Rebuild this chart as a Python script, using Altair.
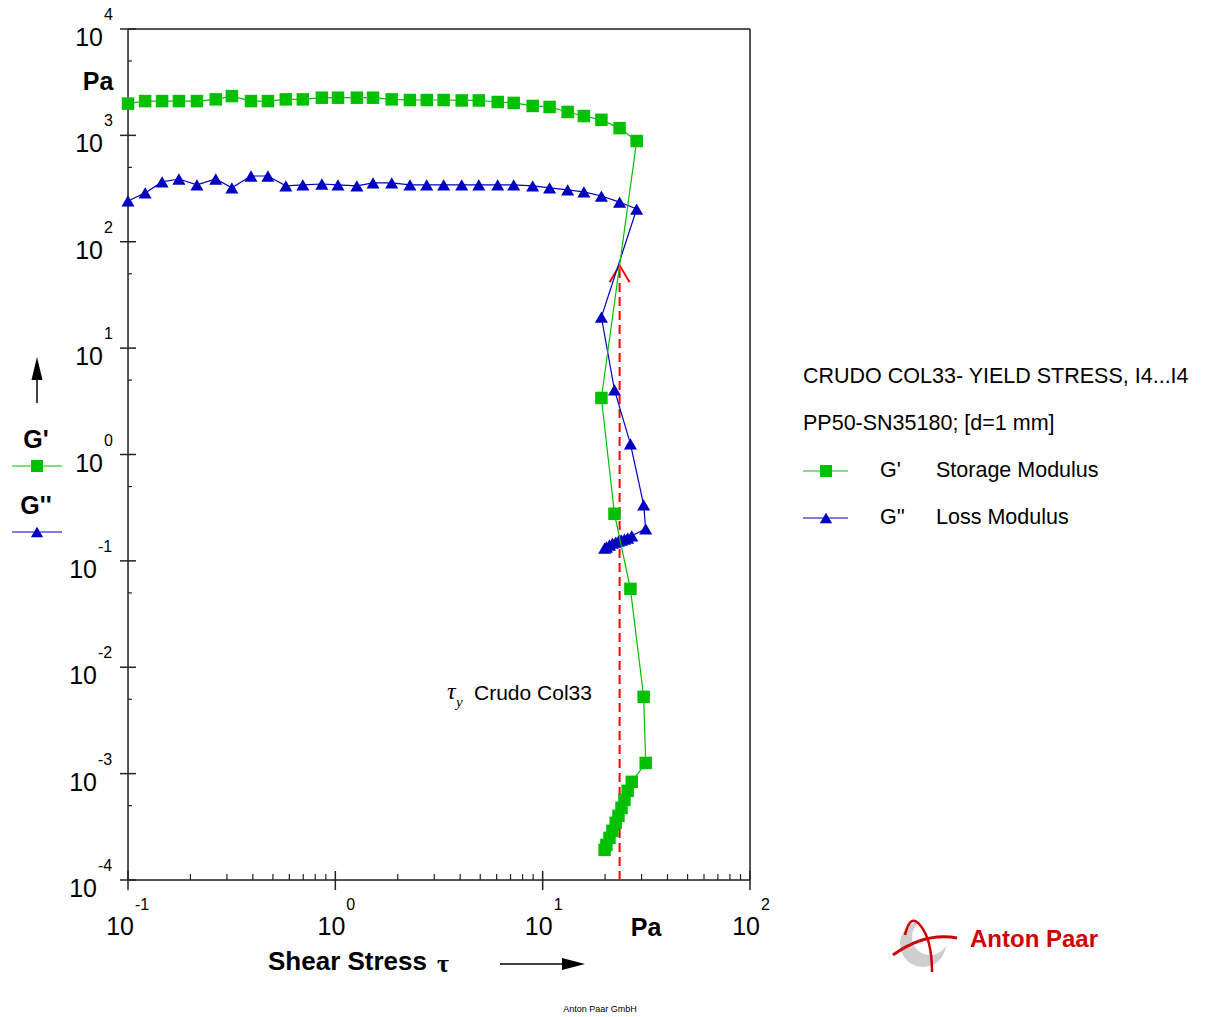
import altair as alt
import pandas as pd

# ---------------- data ----------------
stress_pa = [0.1, 0.121, 0.146, 0.176, 0.215, 0.265, 0.317, 0.392, 0.473, 0.577,
             0.697, 0.861, 1.03, 1.27, 1.52, 1.87, 2.29, 2.76, 3.33, 4.07,
             4.92, 6.07, 7.25, 8.95, 10.8, 13.2, 15.8, 19.2, 23.5, 28.4,
             19.2, 22.2, 26.5, 30.7, 31.4, 26.9, 25.7, 24.8, 24.0, 23.2,
             22.5, 21.7, 21.0, 20.3, 19.9]

g_storage_pa = [1990, 2100, 2100, 2100, 2100, 2180, 2340, 2100, 2100, 2180,
                2180, 2260, 2260, 2260, 2260, 2180, 2150, 2150, 2150, 2130,
                2130, 2060, 2020, 1890, 1850, 1660, 1520, 1400, 1170, 885,
                3.40, 0.277, 0.0546, 0.00527, 0.00126, 0.000837, 0.000689, 0.000567, 0.000477, 0.000401,
                0.000345, 0.00029, 0.000249, 0.000214, 0.000192]

g_loss_pa = [242, 288, 365, 389, 342, 389, 321, 415, 415, 335,
             342, 349, 342, 335, 357, 357, 342, 342, 342, 342,
             342, 342, 342, 335, 321, 307, 294, 269, 236, 203,
             19.6, 4.05, 1.26, 0.336, 0.200, 0.172, 0.164, 0.160, 0.157, 0.153,
             0.150, 0.147, 0.141, 0.135, 0.132]

x_exponents = [-1, 0, 1, 2]
y_exponents = [-4, -3, -2, -1, 0, 1, 2, 3, 4]
x_minor_multipliers = [2, 3, 4, 5, 6, 7, 8, 9]
y_minor_multipliers = [5]

tau_yield_pa = 23.5
yield_arrow_top = 60.0

legend_title_1 = "CRUDO COL33- YIELD STRESS, I4...I4"
legend_title_2 = "PP50-SN35180; [d=1 mm]"
series_short = ["G'", "G''"]
series_long = ["Storage Modulus", "Loss Modulus"]

# ---------------- style ----------------
W, H = 622, 851
GREEN = "#00C000"
BLUE = "#0000C0"
RED = "#FF0000"
AX = "#222222"
SANS = "Liberation Sans"
SERIF = "Liberation Serif"

xs = alt.Scale(type="log", domain=[0.1, 100], nice=False)
ys = alt.Scale(type="log", domain=[1e-4, 1e4], nice=False)


def X(f):
    return alt.X(f, type="quantitative", scale=xs, axis=None)


def Y(f):
    return alt.Y(f, type="quantitative", scale=ys, axis=None)


one = pd.DataFrame({"a": [0]})


def txt(s, x, y, size=21, bold=False, align="left", font=SANS, color="black", italic=False):
    return alt.Chart(pd.DataFrame({"t": [s]})).mark_text(
        align=align, baseline="middle", fontSize=size,
        fontWeight="bold" if bold else "normal", font=font, color=color,
        fontStyle="italic" if italic else "normal",
    ).encode(x=alt.value(x), y=alt.value(y), text="t:N")


def hrule(x1, x2, y, color, width=1.2):
    return alt.Chart(one).mark_rule(color=color, strokeWidth=width).encode(
        x=alt.value(x1), x2=alt.value(x2), y=alt.value(y))


def vrule(x, y1, y2, color, width=1.2):
    return alt.Chart(one).mark_rule(color=color, strokeWidth=width).encode(
        x=alt.value(x), y=alt.value(y1), y2=alt.value(y2))


def sym(x, y, shape, size, color, filled=True, sw=1.0):
    return alt.Chart(one).mark_point(
        shape=shape, size=size, filled=filled, color=color, opacity=1, strokeWidth=sw
    ).encode(x=alt.value(x), y=alt.value(y))


layers = []

# ---------------- frame ----------------
layers.append(hrule(0, W, 0, AX, 1.5))
layers.append(hrule(0, W, H, AX, 1.5))
layers.append(vrule(0, 0, H, AX, 1.5))
layers.append(vrule(W, 0, H, AX, 1.5))

# ---------------- ticks ----------------
xmaj = pd.DataFrame({"v": [10.0 ** e for e in x_exponents], "lab": [str(e) for e in x_exponents], "e": x_exponents})
ymaj = pd.DataFrame({"v": [10.0 ** e for e in y_exponents], "lab": [str(e) for e in y_exponents], "e": y_exponents})
xmin = pd.DataFrame({"v": [m * 10.0 ** e for e in x_exponents[:-1] for m in x_minor_multipliers]})
ymin = pd.DataFrame({"v": [m * 10.0 ** e for e in y_exponents[:-1] for m in y_minor_multipliers]})

layers.append(alt.Chart(xmaj).mark_rule(color=AX, strokeWidth=1.5).encode(
    x=X("v"), y=alt.value(H - 9), y2=alt.value(H + 10)))
layers.append(alt.Chart(xmin).mark_rule(color=AX, strokeWidth=1.2).encode(
    x=X("v"), y=alt.value(H - 6), y2=alt.value(H)))
layers.append(alt.Chart(ymaj).mark_rule(color=AX, strokeWidth=1.5).encode(
    y=Y("v"), x=alt.value(-8), x2=alt.value(8)))
layers.append(alt.Chart(ymin).mark_rule(color=AX, strokeWidth=1.2).encode(
    y=Y("v"), x=alt.value(0), x2=alt.value(4)))

# tick labels: "10" plus superscript exponent
for neg in (True, False):
    sub_x = xmaj[(xmaj.e < 0) == neg]
    sub_y = ymaj[(ymaj.e < 0) == neg]
    dx10 = 6 if neg else 10
    layers.append(alt.Chart(sub_x).mark_text(text="10", align="right", baseline="middle", fontSize=25, font=SANS, dx=dx10)
                  .encode(x=X("v"), y=alt.value(H + 47)))
    layers.append(alt.Chart(sub_x).mark_text(align="left", baseline="middle", fontSize=16, font=SANS, dx=dx10 + 1)
                  .encode(x=X("v"), y=alt.value(H + 25), text="lab:N"))
    xr = -31 if neg else -25
    layers.append(alt.Chart(sub_y).mark_text(text="10", align="right", baseline="middle", fontSize=25, font=SANS, dy=9)
                  .encode(y=Y("v"), x=alt.value(xr)))
    layers.append(alt.Chart(sub_y).mark_text(align="left", baseline="middle", fontSize=16, font=SANS, dy=-14)
                  .encode(y=Y("v"), x=alt.value(xr + 1), text="lab:N"))

# ---------------- yield stress marker ----------------
ydf = pd.DataFrame({"tau": [tau_yield_pa], "lo": [1e-4], "hi": [yield_arrow_top]})
layers.append(alt.Chart(ydf).mark_rule(color=RED, strokeWidth=2, strokeDash=[9, 5]).encode(
    x=X("tau"), y=Y("lo"), y2="hi:Q"))
layers.append(alt.Chart(ydf).mark_point(shape="M-1,1.7L0,0L1,1.7", size=400, filled=False,
                                        color=RED, opacity=1, strokeWidth=2).encode(x=X("tau"), y=Y("hi")))

# ---------------- series ----------------
df = pd.DataFrame({"i": list(range(len(stress_pa))), "stress": stress_pa,
                   "gs": g_storage_pa, "gl": g_loss_pa})
base = alt.Chart(df)
layers.append(base.mark_line(color=BLUE, strokeWidth=1.2).encode(x=X("stress"), y=Y("gl"), order="i:Q"))
layers.append(base.mark_point(shape="triangle-up", filled=True, size=170, color=BLUE, opacity=1)
              .encode(x=X("stress"), y=Y("gl")))
layers.append(base.mark_line(color=GREEN, strokeWidth=1.2).encode(x=X("stress"), y=Y("gs"), order="i:Q"))
layers.append(base.mark_point(shape="square", filled=True, size=156, color=GREEN, opacity=1)
              .encode(x=X("stress"), y=Y("gs")))

# annotation
layers.append(txt("\u03c4", 319, 663, size=24, font=SERIF, italic=True))
layers.append(txt("y", 328, 673, size=15, font=SERIF, italic=True))
layers.append(txt("Crudo Col33", 346, 665, size=21))

# ---------------- axis titles ----------------
layers.append(txt("Pa", -30, 53, size=25, bold=True, align="center"))
layers.append(txt("Pa", 518, 899, size=25, bold=True, align="center"))
layers.append(txt("Shear Stress", 140, 933, size=26, bold=True))
layers.append(txt("\u03c4", 309, 935, size=26, bold=True, font=SERIF))
layers.append(hrule(372, 445, 935, "black", 1.5))
layers.append(sym(457, 935, "M0,0L-2.3,-0.6L-2.3,0.6Z", 400, "black"))

# left y title block
layers.append(vrule(-91, 349, 374, "black", 1.5))
layers.append(sym(-91, 328, "M0,0L0.55,2.3L-0.55,2.3Z", 400, "black"))
layers.append(txt(series_short[0], -92, 411, size=25, bold=True, align="center"))
layers.append(hrule(-116, -66, 437, GREEN))
layers.append(sym(-91, 437, "square", 144, GREEN))
layers.append(txt(series_short[1], -92, 477, size=25, bold=True, align="center"))
layers.append(hrule(-116, -66, 503, BLUE))
layers.append(sym(-91, 503, "triangle-up", 150, BLUE))

# ---------------- right legend ----------------
layers.append(txt(legend_title_1, 675, 348, size=21.5))
layers.append(txt(legend_title_2, 675, 395, size=21.5))
layers.append(hrule(675, 720, 442, GREEN))
layers.append(sym(698, 442, "square", 144, GREEN))
layers.append(txt(series_short[0], 752, 442, size=21.5))
layers.append(txt(series_long[0], 808, 442, size=21.5))
layers.append(hrule(675, 720, 489, BLUE))
layers.append(sym(698, 489, "triangle-up", 150, BLUE))
layers.append(txt(series_short[1], 752, 489, size=21.5))
layers.append(txt(series_long[1], 808, 489, size=21.5))

# ---------------- logo / footer ----------------
layers.append(sym(795, 915, "circle", 46 * 46, "#cfcfcf"))
layers.append(sym(802, 908, "circle", 36 * 36, "white"))
layers.append(sym(797, 917, "M-3.2,0.9Q0,-1.4 3.2,-0.8", 400, "#D00000", filled=False, sw=3))
layers.append(sym(790, 916, "M-1.3,-1.0Q-0.8,-3.2 0.2,-2.0Q1.4,-0.6 1.4,2.7", 400, "#D00000", filled=False, sw=2.5))
layers.append(txt("Anton Paar", 842, 911, size=24, bold=True, color="#D00000"))
layers.append(txt("Anton Paar GmbH", 472, 980, size=9, align="center"))

chart = alt.layer(*layers).properties(
    width=W, height=H,
    autosize=alt.AutoSizeParams(type="none"),
    padding={"left": 128, "top": 29, "right": 456, "bottom": 137},
).configure_view(stroke="transparent", strokeWidth=0).configure(background="white")

chart.save("out.html", embed_options={"renderer": "svg", "actions": False})
